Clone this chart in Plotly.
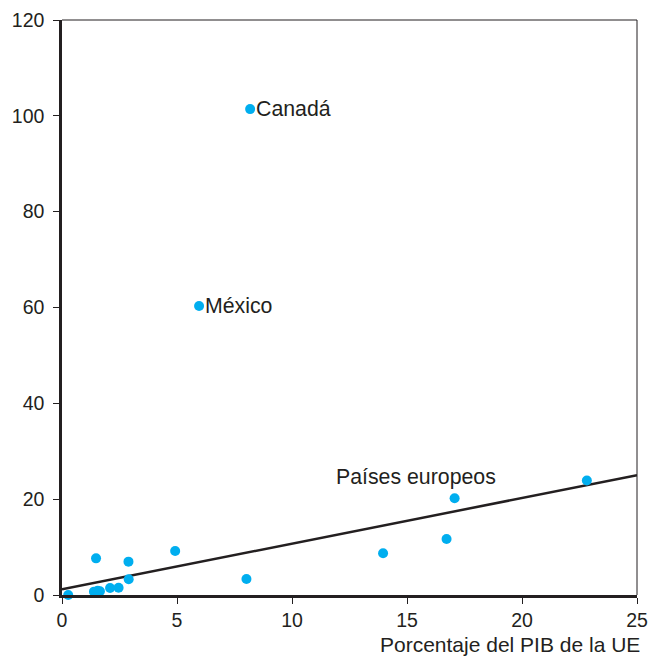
import plotly.graph_objects as go

# Data
eu_x = [0.27, 1.39, 1.48, 1.55, 1.65, 2.09, 2.46, 2.89, 2.90, 4.92, 8.02, 13.96, 16.72, 17.07, 22.82]
eu_y = [0.0, 0.7, 7.65, 0.9, 0.8, 1.46, 1.5, 6.96, 3.27, 9.18, 3.34, 8.7, 11.7, 20.2, 23.9]
other_x = [8.18, 5.96]
other_y = [101.4, 60.3]
other_names = ["Canadá", "México"]
fit_x = [0, 25]
fit_y = [1.2, 25.0]
x_ticks = [0, 5, 10, 15, 20, 25]
y_ticks = [0, 20, 40, 60, 80, 100, 120]

DARK = "#231f20"
CYAN = "#00aeef"
FONT = "Liberation Sans, Arial, sans-serif"

fig = go.Figure()
fig.add_trace(go.Scatter(x=fit_x, y=fit_y, mode="lines",
                         line=dict(color=DARK, width=2.5), showlegend=False, hoverinfo="skip"))
fig.add_trace(go.Scatter(x=eu_x + other_x, y=eu_y + other_y, mode="markers",
                         marker=dict(color=CYAN, size=10, line=dict(width=0)),
                         cliponaxis=False, showlegend=False))

for nx, ny, name in zip(other_x, other_y, other_names):
    fig.add_annotation(x=nx, y=ny, text=name, showarrow=False, xanchor="left",
                       yanchor="middle", xshift=4, font=dict(size=21.3, color=DARK, family=FONT))

fig.add_annotation(x=15.4, y=24.6, text="Países europeos", showarrow=False,
                   xanchor="center", yanchor="middle", font=dict(size=21.3, color=DARK, family=FONT))

fig.add_annotation(x=1, y=0, xref="paper", yref="paper", text="Porcentaje del PIB de la UE",
                   showarrow=False, xanchor="right", yanchor="middle", yshift=-49, xshift=5,
                   font=dict(size=21, color=DARK, family=FONT))

# thin top and right frame lines
fig.add_shape(type="line", xref="paper", yref="paper", x0=0, x1=1, y0=1, y1=1,
              line=dict(color=DARK, width=1))
fig.add_shape(type="line", xref="paper", yref="paper", x0=1, x1=1, y0=0, y1=1,
              line=dict(color=DARK, width=1))

fig.update_layout(
    width=659, height=658,
    margin=dict(l=62, r=22, t=20, b=63),
    plot_bgcolor="white", paper_bgcolor="white",
    font=dict(family=FONT, size=19.5, color=DARK),
    xaxis=dict(range=[0, 25], tickvals=x_ticks, showgrid=False, zeroline=False,
               showline=True, linecolor=DARK, linewidth=2.5, automargin=False,
               ticks="outside", ticklen=6, tickcolor=DARK, tickwidth=1.2),
    yaxis=dict(range=[0, 120], tickvals=y_ticks, showgrid=False, zeroline=False,
               showline=True, linecolor=DARK, linewidth=2.5, automargin=False,
               ticks="outside", ticklen=6, tickcolor=DARK, tickwidth=1.2,
               ticklabelstandoff=5),
)

fig.write_html("out.html", config={"displayModeBar": False},
               post_script="document.body.style.margin='0';document.body.style.overflow='hidden';")
